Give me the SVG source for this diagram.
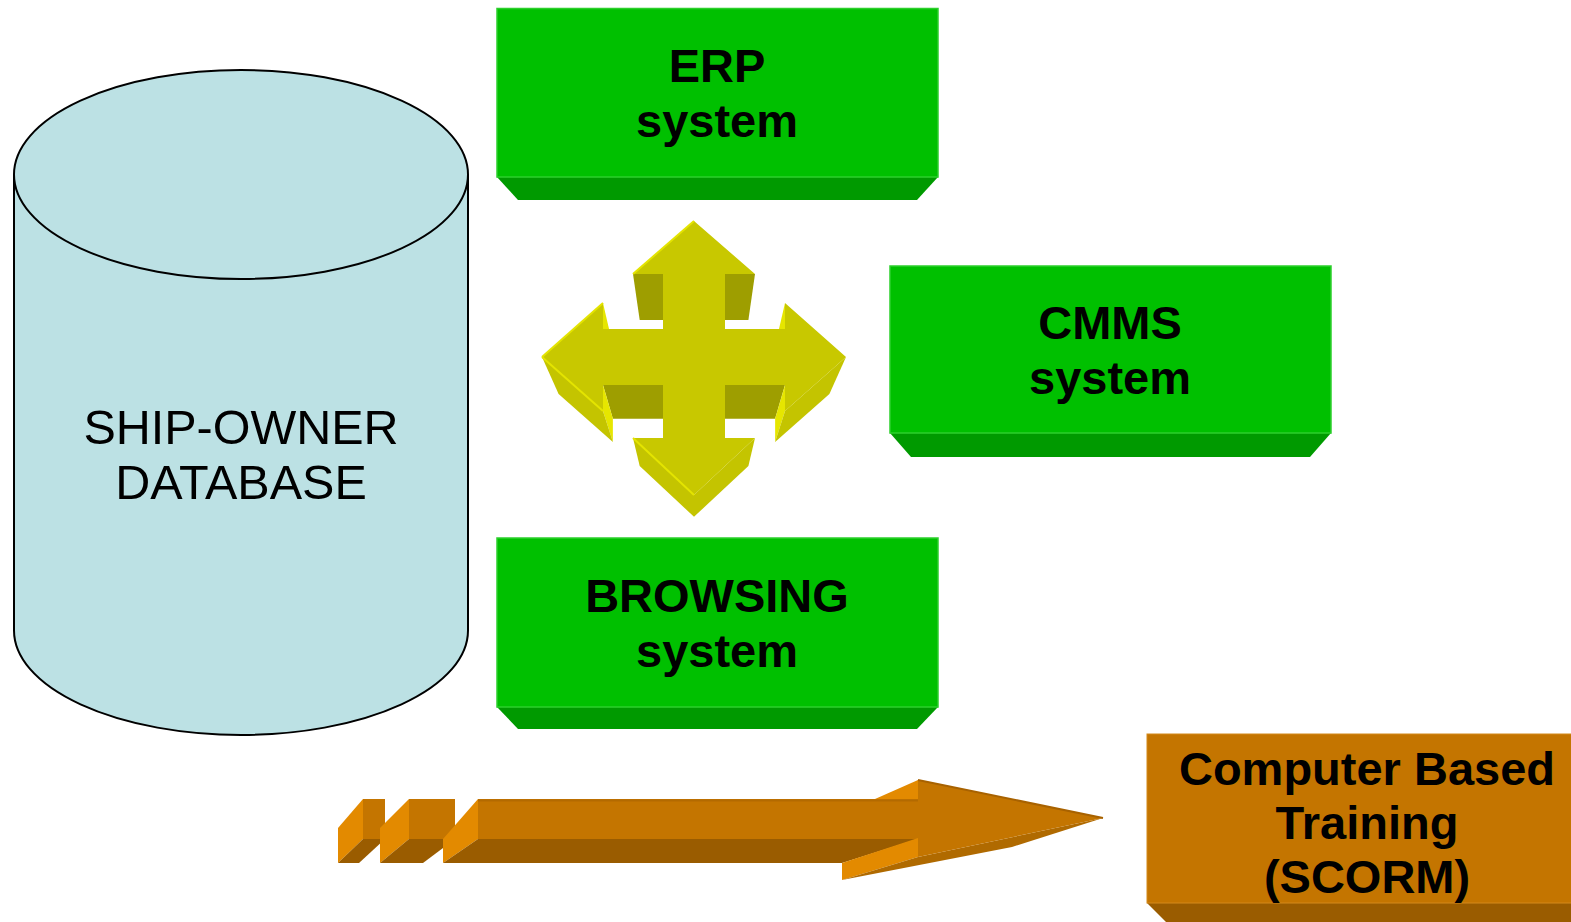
<svg xmlns="http://www.w3.org/2000/svg" width="1571" height="922" viewBox="0 0 1571 922">
<style>
.lbl{font-family:"Liberation Sans",Arial,sans-serif;font-size:47px;font-weight:bold;fill:#000;text-anchor:middle}
.lblr{font-family:"Liberation Sans",Arial,sans-serif;font-size:48.5px;fill:#000;text-anchor:middle}
.gf{fill:#00c000;stroke:#2ccf2c;stroke-width:1.5}
.gb{fill:#009a00}
.of{fill:#c47500}
.ol{fill:#e38a00}
.od{fill:#9a5c00}
.ym{fill:#c8c800}
.yd{fill:#9e9e00}
.ys{fill:#e6e600}
.yl{fill:#c4c400}
.yh{fill:none;stroke:#e4e400;stroke-width:2}
</style>
<rect width="1571" height="922" fill="#fff"/>

<g id="node-db">
<path d="M14,174.5 L14,630.5 A227,104.5 0 0 0 468,630.5 L468,174.5" fill="#bce1e4" stroke="#000" stroke-width="2"/>
<ellipse cx="241" cy="174.5" rx="227" ry="104.5" fill="#bce1e4" stroke="#000" stroke-width="2"/>
<text class="lblr" x="241" y="444">SHIP-OWNER</text>
<text class="lblr" x="241" y="499">DATABASE</text>
</g>

<g id="node-erp">
<polygon class="gb" points="497,177 938,177 917,200 518,200"/>
<rect class="gf" x="497" y="8.5" width="441" height="168.5"/>
<text class="lbl" x="717" y="82">ERP</text>
<text class="lbl" x="717" y="137">system</text>
</g>

<g id="node-cmms">
<polygon class="gb" points="890,433 1331,433 1310,457 911,457"/>
<rect class="gf" x="890" y="266" width="441" height="167"/>
<text class="lbl" x="1110" y="339">CMMS</text>
<text class="lbl" x="1110" y="394">system</text>
</g>

<g id="node-browsing">
<polygon class="gb" points="497,707 938,707 917,729 518,729"/>
<rect class="gf" x="497" y="538" width="441" height="169"/>
<text class="lbl" x="717" y="612">BROWSING</text>
<text class="lbl" x="717" y="667">system</text>
</g>

<g id="node-cbt">
<polygon class="od" points="1147,903 1571,903 1571,922 1166,922"/>
<rect class="of" x="1147" y="734" width="430" height="169" stroke="#d4891a" stroke-width="1"/>
<text class="lbl" x="1367" y="785">Computer Based</text>
<text class="lbl" x="1367" y="839">Training</text>
<text class="lbl" x="1367" y="893">(SCORM)</text>
</g>

<g id="connectors">
<g id="cross-arrow">
<polygon class="yd" points="755,274 725,274 721.6,319.9 748.4,319.9"/>
<polygon class="yd" points="663,274 633,274 639.7,319.9 666.4,319.9"/>
<polygon class="yd" points="785,385 725,385 721.6,418.8 775.1,418.8"/>
<polygon class="yd" points="663,385 603,385 612.9,418.8 666.4,418.8"/>
<polygon class="ys" points="785,329 785,303 775.1,345.7 775.1,368.9"/>
<polygon class="ys" points="785,411 785,385 775.1,418.8 775.1,442"/>
<polygon class="ys" points="603,385 603,411 612.9,442 612.9,418.8"/>
<polygon class="ys" points="603,303 603,329 612.9,368.9 612.9,345.7"/>
<polygon class="yl" points="846,357 785,411 775.1,442 829.4,393.9"/>
<polygon class="yl" points="755,438 694,495 694,516.8 748.4,466"/>
<polygon class="yl" points="694,495 633,438 639.7,466 694,516.8"/>
<polygon class="yl" points="603,411 542,357 558.6,393.9 612.9,442"/>
<polygon class="ym" points="694,221 755,274 725,274 725,329 785,329 785,303 846,357 785,411 785,385 725,385 725,438 755,438 694,495 633,438 663,438 663,385 603,385 603,411 542,357 603,303 603,329 663,329 663,274 633,274"/>
<polyline class="yh" points="542,357 603,411"/>
<polyline class="yh" points="633,438 694,495"/>
<polyline class="yh" points="694,221 633,274"/>
<polyline class="yh" points="542,357 603,303"/>
</g>
<g id="flow-arrow">
<polygon class="ol" points="338,828 363,799 363,839 338,863"/>
<polygon class="od" points="338,863 363,839 385,839 359,863"/>
<rect class="of" x="363" y="799" width="22" height="40"/>
<polygon class="ol" points="380,828 409,799 409,839 380,863"/>
<polygon class="od" points="380,863 409,839 455,839 423,863"/>
<rect class="of" x="409" y="799" width="46" height="40"/>
<polygon class="ol" points="443,839 478,799 478,839 443,863"/>
<polygon class="od" points="443,863 478,839 918,839 842,863"/>
<rect class="of" x="478" y="799" width="440" height="40"/>
<line x1="478" y1="800.5" x2="918" y2="800.5" stroke="#b36a00" stroke-width="2"/>
<polygon class="ol" points="875,799 918,780 918,799"/>
<polygon class="ol" points="842,863 918,838 918,857 842,880"/>
<polygon fill="#b06a00" points="842,880 918,857 1103,818 1012,847"/>
<polygon class="of" points="918,780 1103,818 918,857"/>
<line x1="918" y1="780" x2="1103" y2="818" stroke="#a86200" stroke-width="2"/>
</g>
</g>
</svg>
